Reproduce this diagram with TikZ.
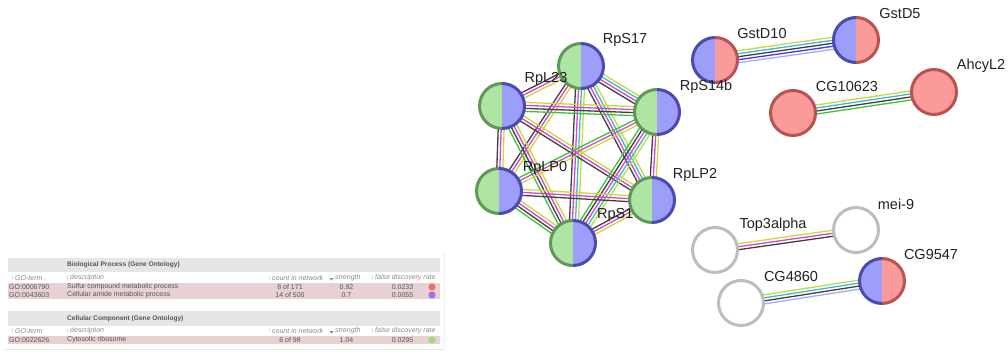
\documentclass[tikz,border=0pt]{standalone}
\usepackage{fontspec}
\setmainfont{Liberation Sans}
\usetikzlibrary{calc}
\definecolor{ctm}{HTML}{C6DB3A}
\definecolor{cex}{HTML}{D844D8}
\definecolor{cco}{HTML}{404040}
\definecolor{cdb}{HTML}{3DB8DA}
\definecolor{cnb}{HTML}{3CC23C}
\definecolor{cocc}{HTML}{3A3AF0}
\definecolor{chom}{HTML}{A8A8F8}
\definecolor{gfill}{HTML}{AEE5A5}
\definecolor{gline}{HTML}{5E9A56}
\definecolor{bfill}{HTML}{9D9DFA}
\definecolor{bline}{HTML}{4A4AB2}
\definecolor{rfill}{HTML}{FA9A9A}
\definecolor{rline}{HTML}{BA5252}
\definecolor{wline}{HTML}{BDBDBD}
\definecolor{lbltext}{HTML}{222222}
\definecolor{hdrgray}{HTML}{E6E6E6}
\definecolor{rowpink}{HTML}{E8D1D3}
\definecolor{tabtext}{HTML}{555555}
\definecolor{coltext}{HTML}{8A8A8A}
\definecolor{dotred}{HTML}{F07070}
\definecolor{dotpurple}{HTML}{9A72F2}
\definecolor{dotgreen}{HTML}{A8D878}
\tikzset{
  pn/.style={circle, minimum size=48pt, inner sep=0pt},
  lbl/.style={font=\fontsize{14.5}{15}\selectfont, text=lbltext, inner sep=0pt},
  tx/.style={font=\fontsize{7}{8}\selectfont, text=tabtext, inner sep=0pt},
  txb/.style={font=\fontsize{6.6}{8}\selectfont\bfseries, text=tabtext, inner sep=0pt},
  txh/.style={font=\fontsize{7}{8}\selectfont\itshape, text=coltext, inner sep=0pt},
  sepmark/.style={draw=coltext!60, line width=0.5pt, dotted},
  edgeline/.style={line width=1.3pt}
}
\newcommand\medge[3]{%
  \foreach \c/\o in {#3}{%
    \draw[edgeline, \c] ($(#1)!\o!90:(#2)$) -- ($(#2)!\o!-90:(#1)$);}}
\newcommand\bicol[5]{%
  \begin{scope}
    \clip ($(#1)+(-30,-30)$) rectangle ($(#1)+(0,30)$);
    \fill[#2] (#1.center) circle[radius=22.5];
    \draw[#4, line width=3pt] (#1.center) circle[radius=22.5];
  \end{scope}
  \begin{scope}
    \clip ($(#1)+(0,-30)$) rectangle ($(#1)+(30,30)$);
    \fill[#3] (#1.center) circle[radius=22.5];
    \draw[#5, line width=3pt] (#1.center) circle[radius=22.5];
  \end{scope}}
\newcommand\wnode[1]{%
  \fill[white] (#1.center) circle[radius=22.5];
  \draw[wline, line width=3pt] (#1.center) circle[radius=22.5];}
\begin{document}
\begin{tikzpicture}[x=1pt,y=-1pt]
\fill[white] (0,0) rectangle (1008,353);
\useasboundingbox (0,0) rectangle (1008,353);

% ---------- node anchors ----------
\node[pn] (RpS17) at (581,66) {};
\node[pn] (RpL23) at (502,106) {};
\node[pn] (RpSfb) at (657,112) {};
\node[pn] (RpLP0) at (499,191) {};
\node[pn] (RpLP2) at (652,200) {};
\node[pn] (RpSb) at (573,243) {};
\node[pn] (GstD10) at (715,60) {};
\node[pn] (GstD5) at (856,40) {};
\node[pn] (CGa) at (793,113) {};
\node[pn] (Ahcy) at (934,92) {};
\node[pn] (Top3) at (715,250) {};
\node[pn] (mei9) at (856,230) {};
\node[pn] (CGb) at (741,303) {};
\node[pn] (CGc) at (882,281) {};

% ---------- edges ----------
\medge{RpS17}{RpL23}{ctm/3pt, cex/0pt, cco/-3pt}
\medge{RpS17}{RpSfb}{ctm/4.5pt, cdb/1.5pt, cex/-1.5pt, cco/-4.5pt}
\medge{RpS17}{RpLP0}{ctm/3pt, cex/0pt, cco/-3pt}
\medge{RpS17}{RpLP2}{ctm/4.5pt, cdb/1.5pt, cex/-1.5pt, cco/-4.5pt}
\medge{RpS17}{RpSb}{ctm/4.5pt, cdb/1.5pt, cex/-1.5pt, cco/-4.5pt}
\medge{RpL23}{RpSfb}{ctm/4.5pt, cex/1.5pt, cco/-1.5pt, cnb/-4.5pt}
\medge{RpL23}{RpLP0}{ctm/3pt, cex/0pt, cco/-3pt}
\medge{RpL23}{RpLP2}{ctm/3pt, cex/0pt, cco/-3pt}
\medge{RpL23}{RpSb}{ctm/4.5pt, cex/1.5pt, cco/-1.5pt, cnb/-4.5pt}
\medge{RpSfb}{RpLP0}{ctm/3pt, cex/0pt, cnb/-3pt}
\medge{RpSfb}{RpLP2}{ctm/3pt, cex/0pt, cco/-3pt}
\medge{RpSfb}{RpSb}{ctm/6pt, cdb/3pt, cex/0pt, cco/-3pt, cnb/-6pt}
\medge{RpLP0}{RpLP2}{ctm/3pt, cex/0pt, cco/-3pt}
\medge{RpLP0}{RpSb}{ctm/4.5pt, cex/1.5pt, cco/-1.5pt, cnb/-4.5pt}
\medge{RpLP2}{RpSb}{ctm/3pt, cex/0pt, cco/-3pt}
\medge{GstD10}{GstD5}{ctm/6pt, cdb/3pt, cco/0pt, cocc/-3pt, chom/-6pt}
\medge{CGa}{Ahcy}{ctm/4.5pt, cdb/1.5pt, cco/-1.5pt, cnb/-4.5pt}
\medge{Top3}{mei9}{ctm/3pt, cex/0pt, cco/-3pt}
\medge{CGb}{CGc}{ctm/4.5pt, cdb/1.5pt, cco/-1.5pt, chom/-4.5pt}

% ---------- node discs (RpLP2 last, it hides part of the RpS1 label) ----------
\bicol{RpS17}{gfill}{bfill}{gline}{bline}
\bicol{RpL23}{gfill}{bfill}{gline}{bline}
\bicol{RpSfb}{gfill}{bfill}{gline}{bline}
\bicol{RpLP0}{gfill}{bfill}{gline}{bline}
\bicol{RpSb}{gfill}{bfill}{gline}{bline}
\node[lbl, anchor=west] (lRpSb) at (597,215) {RpS1};
\bicol{RpLP2}{gfill}{bfill}{gline}{bline}
\bicol{GstD10}{bfill}{rfill}{bline}{rline}
\bicol{GstD5}{bfill}{rfill}{bline}{rline}
\bicol{CGa}{rfill}{rfill}{rline}{rline}
\bicol{Ahcy}{rfill}{rfill}{rline}{rline}
\bicol{CGc}{bfill}{rfill}{bline}{rline}
\wnode{Top3}
\wnode{mei9}
\wnode{CGb}

% ---------- labels ----------
\node[lbl] (lRpS17) at (625,40) {RpS17};
\node[lbl] (lRpL23) at (546,79) {RpL23};
\node[lbl] (lRpLP0) at (545,168) {RpLP0};
\node[lbl] (lRpLP2) at (695,175) {RpLP2};
\node[lbl] (lRpSfb) at (706,87) {RpS14b};
\node[lbl] (lGstD10) at (762,34) {GstD10};
\node[lbl] (lGstD5) at (900,14) {GstD5};
\node[lbl] (lCGa) at (847,87) {CG10623};
\node[lbl] (lAhcy) at (981,66) {AhcyL2};
\node[lbl] (lTop3) at (773,225) {Top3alpha};
\node[lbl] (lmei9) at (896,204) {mei-9};
\node[lbl] (lCGb) at (791,277) {CG4860};
\node[lbl] (lCGc) at (931,255) {CG9547};

% ---------- enrichment table ----------
\draw[hdrgray, line width=0.8pt] (5,349) -- (444,349);
\draw[hdrgray!60, line width=0.6pt] (444,252) -- (444,349);
\fill[hdrgray] (8,258) rectangle (440,272);
\fill[rowpink] (8,283) rectangle (440,299);
\fill[hdrgray] (8,311) rectangle (440,326);
\fill[rowpink] (8,336) rectangle (440,344);

\node[txb, anchor=west] (h1) at (67,265) {Biological Process (Gene Ontology)};
\node[txb, anchor=west] (h2) at (67,318.5) {Cellular Component (Gene Ontology)};

\foreach \yy/\tag in {278/a, 331/b}{
  \draw[sepmark] (12,\yy-2.5) -- (12,\yy+2.5);
  \draw[sepmark] (67,\yy-2.5) -- (67,\yy+2.5);
  \draw[sepmark] (269,\yy-2.5) -- (269,\yy+2.5);
  \draw[sepmark] (372,\yy-2.5) -- (372,\yy+2.5);
  \fill[coltext] (329.5,\yy) -- (333.5,\yy) -- (331.5,\yy+2.5) -- cycle;
  \node[txh, anchor=west] (cg\tag) at (15,\yy) {GO-term};
  \node[txh, anchor=west] (cd\tag) at (70,\yy) {description};
  \node[txh, anchor=west] (cc\tag) at (272,\yy) {count in network};
  \node[txh, anchor=west] (cs\tag) at (335,\yy) {strength};
  \node[txh, anchor=west] (cf\tag) at (375,\yy) {false discovery rate};
}

\node[tx, anchor=west] (r1a) at (9,287) {GO:0006790};
\node[tx, anchor=west] (r1b) at (67,287) {Sulfur compound metabolic process};
\node[tx] (r1c) at (290,287) {8 of 171};
\node[tx] (r1d) at (346.5,287) {0.92};
\node[tx] (r1e) at (402.5,287) {0.0233};
\fill[dotred] (432,287) circle[radius=3.6];

\node[tx, anchor=west] (r2a) at (9,295) {GO:0043603};
\node[tx, anchor=west] (r2b) at (67,295) {Cellular amide metabolic process};
\node[tx] (r2c) at (290,295) {14 of 500};
\node[tx] (r2d) at (346.5,295) {0.7};
\node[tx] (r2e) at (402.5,295) {0.0055};
\fill[dotpurple] (432,295) circle[radius=3.6];

\node[tx, anchor=west] (r3a) at (9,340) {GO:0022626};
\node[tx, anchor=west] (r3b) at (67,340) {Cytosolic ribosome};
\node[tx] (r3c) at (290,340) {6 of 98};
\node[tx] (r3d) at (346.5,340) {1.04};
\node[tx] (r3e) at (402.5,340) {0.0295};
\fill[dotgreen] (432,340) circle[radius=3.6];
\end{tikzpicture}
\end{document}
